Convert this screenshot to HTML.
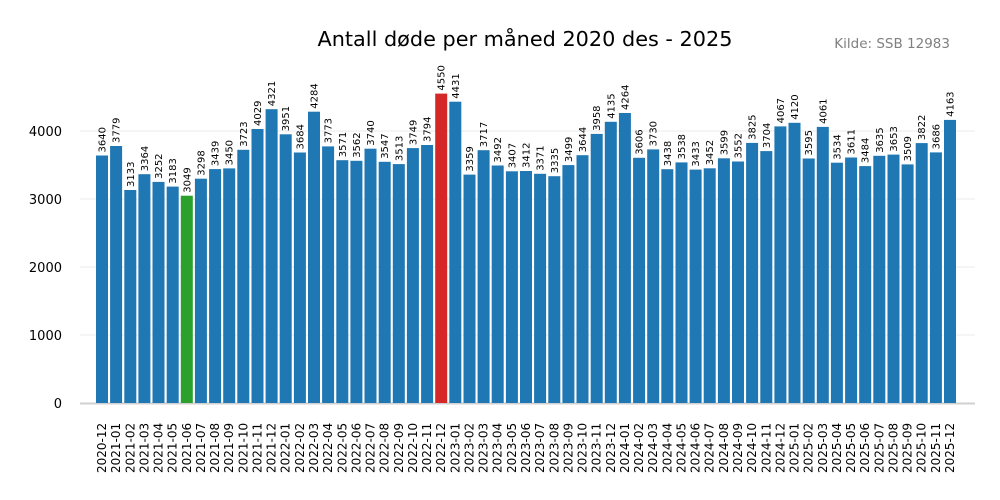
<!DOCTYPE html>
<html><head><meta charset="utf-8"><style>
body{margin:0;background:#fff}
svg{display:block;font-family:"DejaVu Sans","Liberation Sans",sans-serif}
.v{font-size:10px;fill:#000}
.t{font-size:12px;fill:#000}
rect.b{width:12px}
</style></head><body>
<svg width="1000" height="500" viewBox="0 0 1000 500">
<rect width="1000" height="500" fill="#fff"/>
<g stroke="#ebebeb" stroke-width="1">
<line x1="80" x2="975" y1="335" y2="335"/><line x1="80" x2="975" y1="267" y2="267"/>
<line x1="80" x2="975" y1="199" y2="199"/><line x1="80" x2="975" y1="131" y2="131"/>
</g>
<g font-size="13" text-anchor="end" fill="#000">
<text x="62" y="408">0</text><text x="62" y="340">1000</text><text x="62" y="272">2000</text><text x="62" y="204">3000</text><text x="62" y="136">4000</text>
</g>
<text x="525" y="46" font-size="20.8" text-anchor="middle">Antall døde per måned 2020 des - 2025</text>
<text x="950" y="48" font-size="13.5" text-anchor="end" fill="#808080">Kilde: SSB 12983</text>
<line x1="80" x2="975" y1="403.5" y2="403.5" stroke="#d0d0d0" stroke-width="2"/>
<g>
<g transform="translate(102,0)"><rect x="-6" y="155.5" width="12" height="247.5" fill="#1f77b4"/><text class="v" transform="translate(0,152.5) rotate(-90)" y="3.5">3640</text><text class="t" transform="translate(4,473) rotate(-90)">2020-12</text></g>
<g transform="translate(116.1,0)"><rect x="-6" y="146.0" width="12" height="257.0" fill="#1f77b4"/><text class="v" transform="translate(0,143.0) rotate(-90)" y="3.5">3779</text><text class="t" transform="translate(4,473) rotate(-90)">2021-01</text></g>
<g transform="translate(130.3,0)"><rect x="-6" y="190.0" width="12" height="213.0" fill="#1f77b4"/><text class="v" transform="translate(0,187.0) rotate(-90)" y="3.5">3133</text><text class="t" transform="translate(4,473) rotate(-90)">2021-02</text></g>
<g transform="translate(144.4,0)"><rect x="-6" y="174.2" width="12" height="228.8" fill="#1f77b4"/><text class="v" transform="translate(0,171.2) rotate(-90)" y="3.5">3364</text><text class="t" transform="translate(4,473) rotate(-90)">2021-03</text></g>
<g transform="translate(158.5,0)"><rect x="-6" y="181.9" width="12" height="221.1" fill="#1f77b4"/><text class="v" transform="translate(0,178.9) rotate(-90)" y="3.5">3252</text><text class="t" transform="translate(4,473) rotate(-90)">2021-04</text></g>
<g transform="translate(172.7,0)"><rect x="-6" y="186.6" width="12" height="216.4" fill="#1f77b4"/><text class="v" transform="translate(0,183.6) rotate(-90)" y="3.5">3183</text><text class="t" transform="translate(4,473) rotate(-90)">2021-05</text></g>
<g transform="translate(186.8,0)"><rect x="-6" y="195.7" width="12" height="207.3" fill="#2ca02c"/><text class="v" transform="translate(0,192.7) rotate(-90)" y="3.5">3049</text><text class="t" transform="translate(4,473) rotate(-90)">2021-06</text></g>
<g transform="translate(200.9,0)"><rect x="-6" y="178.7" width="12" height="224.3" fill="#1f77b4"/><text class="v" transform="translate(0,175.7) rotate(-90)" y="3.5">3298</text><text class="t" transform="translate(4,473) rotate(-90)">2021-07</text></g>
<g transform="translate(215.1,0)"><rect x="-6" y="169.1" width="12" height="233.9" fill="#1f77b4"/><text class="v" transform="translate(0,166.1) rotate(-90)" y="3.5">3439</text><text class="t" transform="translate(4,473) rotate(-90)">2021-08</text></g>
<g transform="translate(229.2,0)"><rect x="-6" y="168.4" width="12" height="234.6" fill="#1f77b4"/><text class="v" transform="translate(0,165.4) rotate(-90)" y="3.5">3450</text><text class="t" transform="translate(4,473) rotate(-90)">2021-09</text></g>
<g transform="translate(243.3,0)"><rect x="-6" y="149.8" width="12" height="253.2" fill="#1f77b4"/><text class="v" transform="translate(0,146.8) rotate(-90)" y="3.5">3723</text><text class="t" transform="translate(4,473) rotate(-90)">2021-10</text></g>
<g transform="translate(257.5,0)"><rect x="-6" y="129.0" width="12" height="274.0" fill="#1f77b4"/><text class="v" transform="translate(0,126.0) rotate(-90)" y="3.5">4029</text><text class="t" transform="translate(4,473) rotate(-90)">2021-11</text></g>
<g transform="translate(271.6,0)"><rect x="-6" y="109.2" width="12" height="293.8" fill="#1f77b4"/><text class="v" transform="translate(0,106.2) rotate(-90)" y="3.5">4321</text><text class="t" transform="translate(4,473) rotate(-90)">2021-12</text></g>
<g transform="translate(285.7,0)"><rect x="-6" y="134.3" width="12" height="268.7" fill="#1f77b4"/><text class="v" transform="translate(0,131.3) rotate(-90)" y="3.5">3951</text><text class="t" transform="translate(4,473) rotate(-90)">2022-01</text></g>
<g transform="translate(299.9,0)"><rect x="-6" y="152.5" width="12" height="250.5" fill="#1f77b4"/><text class="v" transform="translate(0,149.5) rotate(-90)" y="3.5">3684</text><text class="t" transform="translate(4,473) rotate(-90)">2022-02</text></g>
<g transform="translate(314,0)"><rect x="-6" y="111.7" width="12" height="291.3" fill="#1f77b4"/><text class="v" transform="translate(0,108.7) rotate(-90)" y="3.5">4284</text><text class="t" transform="translate(4,473) rotate(-90)">2022-03</text></g>
<g transform="translate(328.1,0)"><rect x="-6" y="146.4" width="12" height="256.6" fill="#1f77b4"/><text class="v" transform="translate(0,143.4) rotate(-90)" y="3.5">3773</text><text class="t" transform="translate(4,473) rotate(-90)">2022-04</text></g>
<g transform="translate(342.3,0)"><rect x="-6" y="160.2" width="12" height="242.8" fill="#1f77b4"/><text class="v" transform="translate(0,157.2) rotate(-90)" y="3.5">3571</text><text class="t" transform="translate(4,473) rotate(-90)">2022-05</text></g>
<g transform="translate(356.4,0)"><rect x="-6" y="160.8" width="12" height="242.2" fill="#1f77b4"/><text class="v" transform="translate(0,157.8) rotate(-90)" y="3.5">3562</text><text class="t" transform="translate(4,473) rotate(-90)">2022-06</text></g>
<g transform="translate(370.5,0)"><rect x="-6" y="148.7" width="12" height="254.3" fill="#1f77b4"/><text class="v" transform="translate(0,145.7) rotate(-90)" y="3.5">3740</text><text class="t" transform="translate(4,473) rotate(-90)">2022-07</text></g>
<g transform="translate(384.7,0)"><rect x="-6" y="161.8" width="12" height="241.2" fill="#1f77b4"/><text class="v" transform="translate(0,158.8) rotate(-90)" y="3.5">3547</text><text class="t" transform="translate(4,473) rotate(-90)">2022-08</text></g>
<g transform="translate(398.8,0)"><rect x="-6" y="164.1" width="12" height="238.9" fill="#1f77b4"/><text class="v" transform="translate(0,161.1) rotate(-90)" y="3.5">3513</text><text class="t" transform="translate(4,473) rotate(-90)">2022-09</text></g>
<g transform="translate(412.9,0)"><rect x="-6" y="148.1" width="12" height="254.9" fill="#1f77b4"/><text class="v" transform="translate(0,145.1) rotate(-90)" y="3.5">3749</text><text class="t" transform="translate(4,473) rotate(-90)">2022-10</text></g>
<g transform="translate(427.1,0)"><rect x="-6" y="145.0" width="12" height="258.0" fill="#1f77b4"/><text class="v" transform="translate(0,142.0) rotate(-90)" y="3.5">3794</text><text class="t" transform="translate(4,473) rotate(-90)">2022-11</text></g>
<g transform="translate(441.2,0)"><rect x="-6" y="93.6" width="12" height="309.4" fill="#d62728"/><text class="v" transform="translate(0,90.6) rotate(-90)" y="3.5">4550</text><text class="t" transform="translate(4,473) rotate(-90)">2022-12</text></g>
<g transform="translate(455.3,0)"><rect x="-6" y="101.7" width="12" height="301.3" fill="#1f77b4"/><text class="v" transform="translate(0,98.7) rotate(-90)" y="3.5">4431</text><text class="t" transform="translate(4,473) rotate(-90)">2023-01</text></g>
<g transform="translate(469.5,0)"><rect x="-6" y="174.6" width="12" height="228.4" fill="#1f77b4"/><text class="v" transform="translate(0,171.6) rotate(-90)" y="3.5">3359</text><text class="t" transform="translate(4,473) rotate(-90)">2023-02</text></g>
<g transform="translate(483.6,0)"><rect x="-6" y="150.2" width="12" height="252.8" fill="#1f77b4"/><text class="v" transform="translate(0,147.2) rotate(-90)" y="3.5">3717</text><text class="t" transform="translate(4,473) rotate(-90)">2023-03</text></g>
<g transform="translate(497.7,0)"><rect x="-6" y="165.5" width="12" height="237.5" fill="#1f77b4"/><text class="v" transform="translate(0,162.5) rotate(-90)" y="3.5">3492</text><text class="t" transform="translate(4,473) rotate(-90)">2023-04</text></g>
<g transform="translate(511.9,0)"><rect x="-6" y="171.3" width="12" height="231.7" fill="#1f77b4"/><text class="v" transform="translate(0,168.3) rotate(-90)" y="3.5">3407</text><text class="t" transform="translate(4,473) rotate(-90)">2023-05</text></g>
<g transform="translate(526,0)"><rect x="-6" y="171.0" width="12" height="232.0" fill="#1f77b4"/><text class="v" transform="translate(0,168.0) rotate(-90)" y="3.5">3412</text><text class="t" transform="translate(4,473) rotate(-90)">2023-06</text></g>
<g transform="translate(540.1,0)"><rect x="-6" y="173.8" width="12" height="229.2" fill="#1f77b4"/><text class="v" transform="translate(0,170.8) rotate(-90)" y="3.5">3371</text><text class="t" transform="translate(4,473) rotate(-90)">2023-07</text></g>
<g transform="translate(554.3,0)"><rect x="-6" y="176.2" width="12" height="226.8" fill="#1f77b4"/><text class="v" transform="translate(0,173.2) rotate(-90)" y="3.5">3335</text><text class="t" transform="translate(4,473) rotate(-90)">2023-08</text></g>
<g transform="translate(568.4,0)"><rect x="-6" y="165.1" width="12" height="237.9" fill="#1f77b4"/><text class="v" transform="translate(0,162.1) rotate(-90)" y="3.5">3499</text><text class="t" transform="translate(4,473) rotate(-90)">2023-09</text></g>
<g transform="translate(582.5,0)"><rect x="-6" y="155.2" width="12" height="247.8" fill="#1f77b4"/><text class="v" transform="translate(0,152.2) rotate(-90)" y="3.5">3644</text><text class="t" transform="translate(4,473) rotate(-90)">2023-10</text></g>
<g transform="translate(596.7,0)"><rect x="-6" y="133.9" width="12" height="269.1" fill="#1f77b4"/><text class="v" transform="translate(0,130.9) rotate(-90)" y="3.5">3958</text><text class="t" transform="translate(4,473) rotate(-90)">2023-11</text></g>
<g transform="translate(610.8,0)"><rect x="-6" y="121.8" width="12" height="281.2" fill="#1f77b4"/><text class="v" transform="translate(0,118.8) rotate(-90)" y="3.5">4135</text><text class="t" transform="translate(4,473) rotate(-90)">2023-12</text></g>
<g transform="translate(624.9,0)"><rect x="-6" y="113.0" width="12" height="290.0" fill="#1f77b4"/><text class="v" transform="translate(0,110.0) rotate(-90)" y="3.5">4264</text><text class="t" transform="translate(4,473) rotate(-90)">2024-01</text></g>
<g transform="translate(639.1,0)"><rect x="-6" y="157.8" width="12" height="245.2" fill="#1f77b4"/><text class="v" transform="translate(0,154.8) rotate(-90)" y="3.5">3606</text><text class="t" transform="translate(4,473) rotate(-90)">2024-02</text></g>
<g transform="translate(653.2,0)"><rect x="-6" y="149.4" width="12" height="253.6" fill="#1f77b4"/><text class="v" transform="translate(0,146.4) rotate(-90)" y="3.5">3730</text><text class="t" transform="translate(4,473) rotate(-90)">2024-03</text></g>
<g transform="translate(667.3,0)"><rect x="-6" y="169.2" width="12" height="233.8" fill="#1f77b4"/><text class="v" transform="translate(0,166.2) rotate(-90)" y="3.5">3438</text><text class="t" transform="translate(4,473) rotate(-90)">2024-04</text></g>
<g transform="translate(681.5,0)"><rect x="-6" y="162.4" width="12" height="240.6" fill="#1f77b4"/><text class="v" transform="translate(0,159.4) rotate(-90)" y="3.5">3538</text><text class="t" transform="translate(4,473) rotate(-90)">2024-05</text></g>
<g transform="translate(695.6,0)"><rect x="-6" y="169.6" width="12" height="233.4" fill="#1f77b4"/><text class="v" transform="translate(0,166.6) rotate(-90)" y="3.5">3433</text><text class="t" transform="translate(4,473) rotate(-90)">2024-06</text></g>
<g transform="translate(709.7,0)"><rect x="-6" y="168.3" width="12" height="234.7" fill="#1f77b4"/><text class="v" transform="translate(0,165.3) rotate(-90)" y="3.5">3452</text><text class="t" transform="translate(4,473) rotate(-90)">2024-07</text></g>
<g transform="translate(723.9,0)"><rect x="-6" y="158.3" width="12" height="244.7" fill="#1f77b4"/><text class="v" transform="translate(0,155.3) rotate(-90)" y="3.5">3599</text><text class="t" transform="translate(4,473) rotate(-90)">2024-08</text></g>
<g transform="translate(738,0)"><rect x="-6" y="161.5" width="12" height="241.5" fill="#1f77b4"/><text class="v" transform="translate(0,158.5) rotate(-90)" y="3.5">3552</text><text class="t" transform="translate(4,473) rotate(-90)">2024-09</text></g>
<g transform="translate(752.1,0)"><rect x="-6" y="142.9" width="12" height="260.1" fill="#1f77b4"/><text class="v" transform="translate(0,139.9) rotate(-90)" y="3.5">3825</text><text class="t" transform="translate(4,473) rotate(-90)">2024-10</text></g>
<g transform="translate(766.3,0)"><rect x="-6" y="151.1" width="12" height="251.9" fill="#1f77b4"/><text class="v" transform="translate(0,148.1) rotate(-90)" y="3.5">3704</text><text class="t" transform="translate(4,473) rotate(-90)">2024-11</text></g>
<g transform="translate(780.4,0)"><rect x="-6" y="126.4" width="12" height="276.6" fill="#1f77b4"/><text class="v" transform="translate(0,123.4) rotate(-90)" y="3.5">4067</text><text class="t" transform="translate(4,473) rotate(-90)">2024-12</text></g>
<g transform="translate(794.5,0)"><rect x="-6" y="122.8" width="12" height="280.2" fill="#1f77b4"/><text class="v" transform="translate(0,119.8) rotate(-90)" y="3.5">4120</text><text class="t" transform="translate(4,473) rotate(-90)">2025-01</text></g>
<g transform="translate(808.7,0)"><rect x="-6" y="158.5" width="12" height="244.5" fill="#1f77b4"/><text class="v" transform="translate(0,155.5) rotate(-90)" y="3.5">3595</text><text class="t" transform="translate(4,473) rotate(-90)">2025-02</text></g>
<g transform="translate(822.8,0)"><rect x="-6" y="126.9" width="12" height="276.1" fill="#1f77b4"/><text class="v" transform="translate(0,123.9) rotate(-90)" y="3.5">4061</text><text class="t" transform="translate(4,473) rotate(-90)">2025-03</text></g>
<g transform="translate(836.9,0)"><rect x="-6" y="162.7" width="12" height="240.3" fill="#1f77b4"/><text class="v" transform="translate(0,159.7) rotate(-90)" y="3.5">3534</text><text class="t" transform="translate(4,473) rotate(-90)">2025-04</text></g>
<g transform="translate(851.1,0)"><rect x="-6" y="157.5" width="12" height="245.5" fill="#1f77b4"/><text class="v" transform="translate(0,154.5) rotate(-90)" y="3.5">3611</text><text class="t" transform="translate(4,473) rotate(-90)">2025-05</text></g>
<g transform="translate(865.2,0)"><rect x="-6" y="166.1" width="12" height="236.9" fill="#1f77b4"/><text class="v" transform="translate(0,163.1) rotate(-90)" y="3.5">3484</text><text class="t" transform="translate(4,473) rotate(-90)">2025-06</text></g>
<g transform="translate(879.3,0)"><rect x="-6" y="155.8" width="12" height="247.2" fill="#1f77b4"/><text class="v" transform="translate(0,152.8) rotate(-90)" y="3.5">3635</text><text class="t" transform="translate(4,473) rotate(-90)">2025-07</text></g>
<g transform="translate(893.5,0)"><rect x="-6" y="154.6" width="12" height="248.4" fill="#1f77b4"/><text class="v" transform="translate(0,151.6) rotate(-90)" y="3.5">3653</text><text class="t" transform="translate(4,473) rotate(-90)">2025-08</text></g>
<g transform="translate(907.6,0)"><rect x="-6" y="164.4" width="12" height="238.6" fill="#1f77b4"/><text class="v" transform="translate(0,161.4) rotate(-90)" y="3.5">3509</text><text class="t" transform="translate(4,473) rotate(-90)">2025-09</text></g>
<g transform="translate(921.7,0)"><rect x="-6" y="143.1" width="12" height="259.9" fill="#1f77b4"/><text class="v" transform="translate(0,140.1) rotate(-90)" y="3.5">3822</text><text class="t" transform="translate(4,473) rotate(-90)">2025-10</text></g>
<g transform="translate(935.9,0)"><rect x="-6" y="152.4" width="12" height="250.6" fill="#1f77b4"/><text class="v" transform="translate(0,149.4) rotate(-90)" y="3.5">3686</text><text class="t" transform="translate(4,473) rotate(-90)">2025-11</text></g>
<g transform="translate(950,0)"><rect x="-6" y="119.9" width="12" height="283.1" fill="#1f77b4"/><text class="v" transform="translate(0,116.9) rotate(-90)" y="3.5">4163</text><text class="t" transform="translate(4,473) rotate(-90)">2025-12</text></g>
</g>
</svg>
</body></html>
